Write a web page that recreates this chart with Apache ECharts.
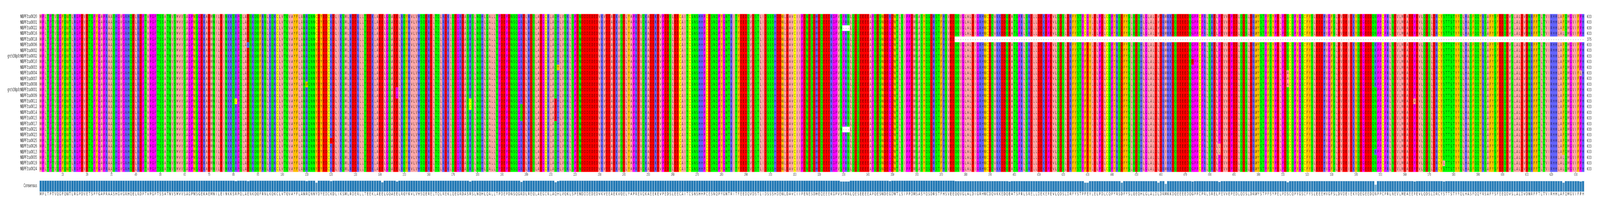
<!DOCTYPE html>
<html>
<head>
<meta charset="utf-8">
<style>
	html, body { margin: 0; padding: 0; background: #fff; overflow: hidden; }
	#main { width: 6609px; height: 539px; transform-origin: 0 0; }
</style>
<script src="https://cdn.jsdelivr.net/npm/echarts@6/dist/echarts.min.js"></script>
</head>
<body>
<div id="main"></div>
<script>
var rowNames = [
	'NBPF3:a0020', 'NBPF3:a0001', 'NBPF3:a0022', 'NBPF3:a0016', 'NBPF3:a0018', 'NBPF3:a0006', 'NBPF3:a0002',
	'grch38p0:NBPF3:a0002', 'NBPF3:a0010', 'NBPF3:a0003', 'NBPF3:a0004', 'NBPF3:a0007', 'NBPF3:a0008',
	'grch38p0:NBPF3:a0001', 'NBPF3:a0009', 'NBPF3:a0011', 'NBPF3:a0012', 'NBPF3:a0014', 'NBPF3:a0015',
	'NBPF3:a0017', 'NBPF3:a0021', 'NBPF3:a0023', 'NBPF3:a0025', 'NBPF3:a0026', 'NBPF3:a0013', 'NBPF3:a0005',
	'NBPF3:a0019', 'NBPF3:a0024'
];

var seqLengths = [
	633, 633, 630, 633, 375, 633, 633, 633, 633, 633, 633, 633, 633, 633,
	633, 633, 633, 633, 633, 633, 630, 633, 633, 633, 633, 633, 633, 633
];

// consensus sequence, ten residues per chunk
var consensusSeq = [
	'MPLTPTVQGF', 'QWTLRGPDVE', 'TSPFGAPRAA', 'SHGVGRHQEL', 'RDPTVPGPTS', 'SATNVSMVVS', 'AGPWSGEKAE', 'MNILEINKKS',
	'RPQLAENKQQ', 'FRNLKQKCLV', 'TQVAYFLANR', 'QNNYDYEDCK', 'DLIKSMLRDE', 'RLLTEEKLAE', 'ELGQAEELRQ', 'YKVLVHSQER',
	'ELTQLREKLQ', 'EGRDASRSLN', 'QHLQALLTPD', 'EPDNSQGRDL', 'REQLAEGCRL', 'AQHLVQKLSP', 'ENDDDEDEDV', 'KVEEAEKVQE',
	'LYAPREVQKA', 'EEKEVPEDSL', 'EECAITCSNS', 'HHPCESNQPY', 'GNTRITFEED', 'QVDSTLIDSS', 'SHDEWLDAVC', 'IIPENESDHE',
	'QEEEKGPVSP', 'RNLQESEEEE', 'APQESWDEGD', 'WTLSIPPDMS', 'ASYQSDRSTF', 'HSVEEQQVGL', 'ALDIGRHWCD', 'QVKKEDQEAT',
	'SPRLSRELLD', 'EKEPEVLQDS', 'LDRFYSTPFE', 'YLELPDLCQP', 'YRSDFYSLQE', 'QHLGLALDLD', 'RMKKDQEEEE', 'DQGPPCPRLS',
	'RELPEVVEPE', 'DLQDSLDRWY', 'STPFSYPELP', 'DSCQPYGSCF', 'YSLEEEHVGF', 'SLDVDEIEKY', 'QEGEEDQNPP', 'CPRLNEVLME',
	'AEEPEVLQDS', 'LDRCYSTTST', 'YFQLHASFQQ', 'YRSAFYSFEE', 'QDVSLALDVD', 'NRFFTLTVIR', 'HHLAFQMGVI', 'FPH'
].join('');

// [column, letter, rows that differ from the consensus]
var variants = [
	[81, 'C', [15]], [86, 'K', [5]], [110, 'W', [12]], [114, 'C', [0, 1, 2, 3, 4]], [120, 'E', [22]],
	[141, 'D', [15, 16, 17, 18]], [147, 'G', [13, 14]], [177, 'C', [15, 16]], [198, 'Q', [16, 17, 18]],
	[212, 'E', [15, 16, 17, 18]], [213, 'Y', [9]], [329, 'N', [2, 20]], [330, '-', [2, 20]], [331, '-', [2, 20]],
	[332, '-', [2, 20]], [349, 'R', [0]], [398, 'D', [17]], [429, 'C', [0, 1, 2, 3]], [430, 'G', [0, 1, 2, 3]],
	[444, 'E', [0, 1, 2, 3]], [459, 'V', [0, 1, 2, 3]], [462, 'I', [20, 21, 22, 23, 24, 25, 26]], [473, 'D', [8]],
	[484, 'L', [23, 24]], [512, 'A', [10, 11, 12]], [548, 'K', [5, 6, 7, 8, 9, 10, 11, 12, 24]], [564, 'A', [15]],
	[576, 'L', [26]], [625, 'L', [3, 25, 26, 27]], [632, 'L', [10]]
];

// row, first and last gapped column
var gapRuns = [[4, 376, 633]];

// sequences agreeing per column, out of 28, where it is not the default
var consensusDips = [
	[81, 27], [86, 27], [110, 27], [114, 23], [120, 27], [141, 24], [147, 26], [177, 26], [198, 25], [212, 24],
	[213, 27], [329, 26], [330, 26], [331, 26], [332, 26], [349, 27], [398, 26], [429, 23], [430, 23], [444, 23],
	[459, 23], [462, 20], [473, 26], [484, 25], [512, 24], [548, 18], [564, 26], [576, 26], [625, 23], [632, 26]
];

var residueGroups = ['-', 'MLVIA', 'PG', 'TSNQ', 'C', 'FWY', 'RKH', 'DE'];
var groupColors = ['#ffffff', '#ffa8a8', '#ff00ff', '#00ff00', '#ffff00', '#ffc000', '#6464ff', '#ff0000'];

var fontName = '"DejaVu Sans Condensed", "DejaVu Sans", sans-serif';
var colCount = consensusSeq.length;
var rowCount = rowNames.length;

var rows = [];
rowNames.forEach(function(name) {
	rows.push(consensusSeq.split(''));
});
variants.forEach(function(v) {
	v[2].forEach(function(r) {
		rows[r][v[0] - 1] = v[1];
	});
});
gapRuns.forEach(function(g) {
	for (var c = g[1]; c <= g[2]; c++) rows[g[0]][c - 1] = '-';
});

function groupOf(letter) {
	for (var i = 0; i < residueGroups.length; i++) {
		if (residueGroups[i].indexOf(letter) >= 0) return i;
	}
	return 0;
}

var cells = [];
rows.forEach(function(seq, r) {
	seq.forEach(function(letter, c) {
		cells.push([c, r, groupOf(letter)]);
	});
});

var positions = [];
for (var i = 1; i <= colCount; i++) positions.push(String(i));

var agreeing = [];
for (var j = 1; j <= colCount; j++) agreeing.push(j >= 376 ? 27 : 28);
consensusDips.forEach(function(d) {
	agreeing[d[0] - 1] = d[1];
});

var consensusBars = agreeing.map(function(v) {
	return { value: v, itemStyle: { opacity: v / rowCount } };
});

function everyTenth(index) {
	return (index + 1) % 10 === 0;
}

// the browser window can come out narrower than 6609, keep the full chart in it
var mainEl = document.getElementById('main');
if (window.innerWidth < 6609) {
	mainEl.style.transform = 'scaleX(' + (window.innerWidth / 6609) + ')';
}

var myChart = echarts.init(mainEl, null, { width: 6609, height: 539 });

myChart.setOption({
	animation: false,
	backgroundColor: '#fff',
	textStyle: { fontFamily: fontName },
	grid: [
		{ left: 163, top: 36, width: 6381, height: 403 },
		{ left: 163, top: 461, width: 6381, height: 29 }
	],
	xAxis: [{
		type: 'category',
		gridIndex: 0,
		data: positions,
		axisLine: { show: false },
		axisTick: { show: true, alignWithLabel: true, interval: everyTenth, length: 4, lineStyle: { color: '#333' } },
		axisLabel: { interval: everyTenth, fontSize: 8.5, color: '#444', margin: 3, fontFamily: fontName, hideOverlap: false },
		splitLine: { show: false }
	}, {
		type: 'category',
		gridIndex: 1,
		data: consensusSeq.split(''),
		axisLine: { show: false },
		axisTick: { show: false },
		axisLabel: { interval: 0, fontSize: 11, color: '#333', margin: 1, fontFamily: fontName, hideOverlap: false },
		splitLine: { show: false }
	}],
	yAxis: [{
		type: 'category',
		gridIndex: 0,
		inverse: true,
		data: rowNames,
		axisLine: { show: false },
		axisTick: { show: false },
		axisLabel: { interval: 0, fontSize: 11.5, color: '#262626', margin: 10, fontFamily: fontName },
		splitLine: { show: false }
	}, {
		type: 'category',
		gridIndex: 0,
		position: 'right',
		inverse: true,
		data: seqLengths.map(String),
		axisLine: { show: false },
		axisTick: { show: false },
		axisLabel: { interval: 0, fontSize: 11, color: '#333', margin: 11, fontFamily: fontName },
		splitLine: { show: false }
	}, {
		type: 'value',
		gridIndex: 1,
		min: 0,
		max: rowCount,
		name: 'Consensus',
		nameLocation: 'middle',
		nameRotate: 0,
		nameGap: 10,
		nameTextStyle: { align: 'right', verticalAlign: 'middle', fontSize: 11.5, color: '#262626', fontFamily: fontName },
		axisLine: { show: false },
		axisTick: { show: false },
		axisLabel: { show: false },
		splitLine: { show: false }
	}],
	visualMap: {
		show: false,
		type: 'piecewise',
		seriesIndex: 0,
		dimension: 2,
		pieces: groupColors.map(function(color, i) {
			return { value: i, color: color };
		})
	},
	series: [{
		type: 'heatmap',
		xAxisIndex: 0,
		yAxisIndex: 0,
		data: cells,
		progressive: 0,
		silent: true,
		itemStyle: { borderWidth: 0 },
		label: {
			show: true,
			fontSize: 11,
			fontFamily: fontName,
			color: 'rgba(0,0,0,0.72)',
			formatter: function(params) {
				return rows[params.value[1]][params.value[0]];
			}
		}
	}, {
		type: 'bar',
		xAxisIndex: 1,
		yAxisIndex: 2,
		data: consensusBars,
		barCategoryGap: 0,
		silent: true,
		itemStyle: { color: '#1f77b4', borderColor: '#cfe0ee', borderWidth: 0.8 }
	}]
});
</script>
</body>
</html>
